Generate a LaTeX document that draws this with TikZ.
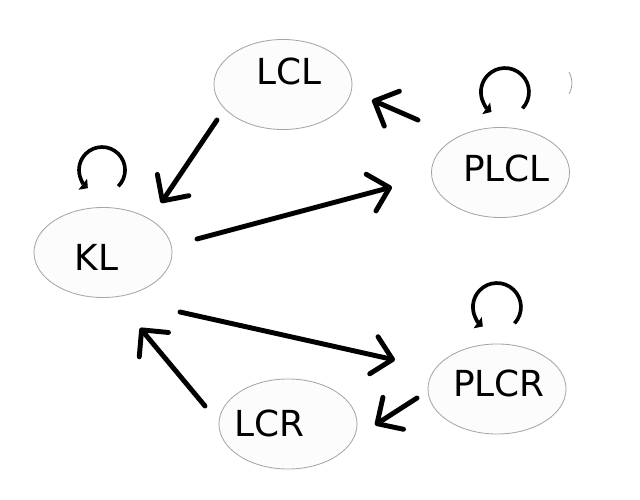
\documentclass[tikz,border=0pt]{standalone}
\usepackage{fontspec}
\setmainfont{DejaVu Sans}
\usetikzlibrary{arrows.meta,shapes.geometric}

\begin{document}
\begin{tikzpicture}[x=0.025cm,y=-0.025cm,font=\fontsize{25.5}{30}\selectfont,
    stnode/.style={ellipse,draw=black!35,line width=0.6pt,fill=black!1,inner sep=0pt,minimum width=3.45cm,minimum height=2.25cm},
    edge/.style={line width=3.5pt,line cap=round,-{Straight Barb[length=0.48cm,width=0.95cm,line cap=round,line join=round]}},
    selfloop/.style={line width=2.6pt,-{Triangle[length=1.6mm,width=3.4mm]}}]
        \useasboundingbox (0,0) rectangle (640,500);
        % states
        \node[stnode,label={[xshift=4.3pt,yshift=9.6pt]center:LCL}] (lcl) at (283,84.5) {};
        \node[stnode,label={[xshift=4.3pt,yshift=3.2pt]center:PLCL}] (plcl) at (500.5,172.5) {};
        \node[stnode,label={[xshift=-4.6pt,yshift=-3.6pt]center:KL}] (kl) at (103,252.5) {};
        \node[stnode,label={[xshift=1.4pt,yshift=3.9pt]center:PLCR}] (plcr) at (497,389) {};
        \node[stnode,label={[xshift=-13.5pt,yshift=0.7pt]center:LCR}] (lcr) at (288,424) {};
        % stray arc at the right border
        \draw[black!35,line width=0.6pt] (569,72) .. controls (573,80) and (573,86) .. (569,94);
        % connector ends
        \coordinate (lcl-a) at (217,120);  \coordinate (kl-a) at (161,203);
        \coordinate (kl-b) at (197,239);   \coordinate (plcl-b) at (392,187);
        \coordinate (plcl-c) at (418,120); \coordinate (lcl-c) at (372,100);
        \coordinate (kl-d) at (180,312);   \coordinate (plcr-d) at (395,360);
        \coordinate (plcr-e) at (417,398); \coordinate (lcr-e) at (375,425);
        \coordinate (lcr-f) at (205,406);  \coordinate (kl-f) at (140,328);
        \draw[edge] (lcl-a) -- (kl-a);
        \draw[edge] (kl-b) -- (plcl-b);
        \draw[edge] (plcl-c) -- (lcl-c);
        \draw[edge] (kl-d) -- (plcr-d);
        \draw[edge] (plcr-e) -- (lcr-e);
        \draw[edge] (lcr-f) -- (kl-f);
        % self loops
        \coordinate (kl-loop) at (118.3,186.3);
        \coordinate (plcl-loop) at (522.5,108.4);
        \coordinate (plcr-loop) at (514.5,323.4);
        \draw[selfloop] (kl-loop) arc[start angle=-45,end angle=232,radius=0.575cm];
        \draw[selfloop] (plcl-loop) arc[start angle=-43,end angle=236,radius=0.6cm];
        \draw[selfloop] (plcr-loop) arc[start angle=-43,end angle=234,radius=0.6cm];
      \end{tikzpicture}
\end{document}
